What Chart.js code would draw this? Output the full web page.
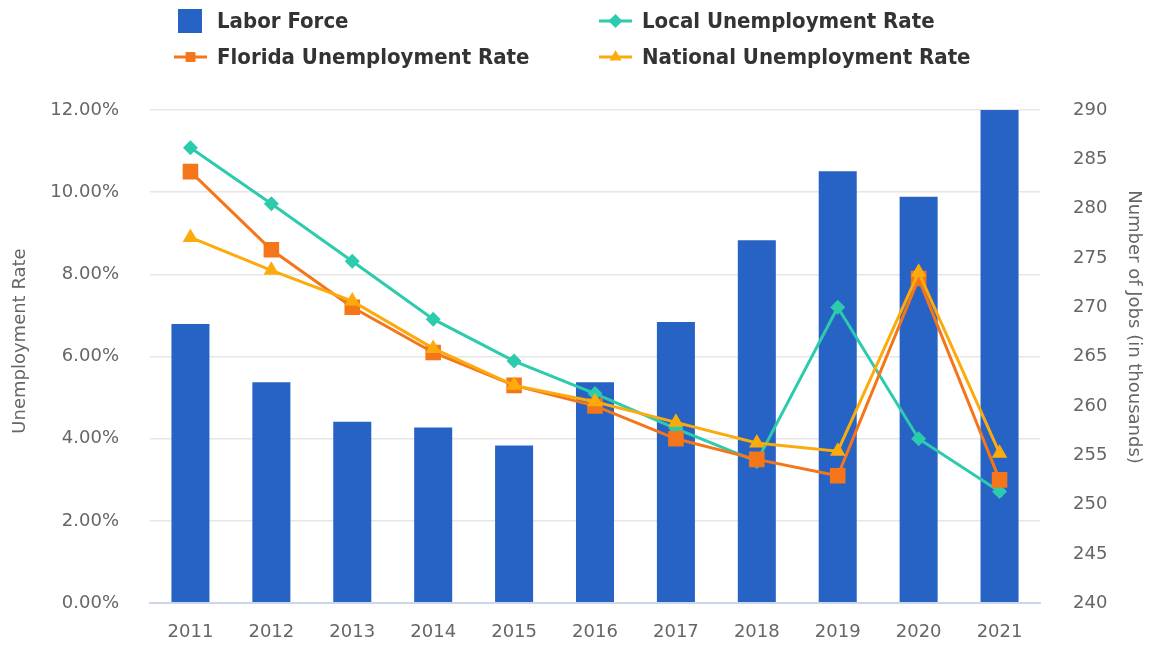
<!DOCTYPE html>
<html>
<head>
<meta charset="utf-8">
<title>Labor Force and Unemployment Rate</title>
<script src="https://cdn.jsdelivr.net/npm/chart.js@4.4.1/dist/chart.umd.min.js"></script>
<style>
  html, body { margin: 0; padding: 0; background: #fff; }
  #wrap { position: relative; width: 1151px; height: 647px; }
</style>
</head>
<body>
<div id="wrap"><canvas id="laborChart"></canvas></div>
<script>
// Chart data
const years = ['2011', '2012', '2013', '2014', '2015', '2016', '2017', '2018', '2019', '2020', '2021'];
const laborForce = [268.3, 262.4, 258.4, 257.8, 256.0, 262.4, 268.5, 276.8, 283.8, 281.2, 290.0];
const localRate = [11.08, 9.72, 8.32, 6.91, 5.89, 5.1, 4.25, 3.45, 7.2, 4.0, 2.72];
const floridaRate = [10.5, 8.6, 7.2, 6.1, 5.3, 4.8, 4.0, 3.5, 3.1, 7.9, 3.0];
const nationalRate = [8.9, 8.1, 7.35, 6.2, 5.3, 4.9, 4.4, 3.9, 3.7, 8.05, 3.65];

const rateAxis = { min: 0, max: 12, step: 2, title: 'Unemployment Rate' };
const jobsAxis = { min: 240, max: 290, step: 5, title: 'Number of Jobs (in thousands)' };

const COLORS = {
  bar: '#2763c4',
  local: '#2ccbad',
  florida: '#f5761a',
  national: '#fbab0c',
  tick: '#666666',
  grid: '#e6e6e6',
  axisLine: '#ccd6eb',
  legendText: '#333333'
};

const TICK_FONT = { family: '"DejaVu Sans", sans-serif', size: 18 };

// Two-column legend drawn at the top, like the original
const legendSlots = [
  { x: 174, y: 21 },
  { x: 599, y: 21 },
  { x: 174, y: 57 },
  { x: 599, y: 57 }
];

const topLegend = {
  id: 'topLegend',
  afterDraw(chart) {
    const ctx = chart.ctx;
    ctx.save();
    chart.data.datasets.forEach((ds, i) => {
      const slot = legendSlots[i];
      if (!slot) return;
      if (ds.type === 'bar') {
        ctx.fillStyle = ds.backgroundColor;
        ctx.fillRect(slot.x + 4, slot.y - 12, 24, 24);
      } else {
        ctx.strokeStyle = ds.borderColor;
        ctx.lineWidth = 3;
        ctx.beginPath();
        ctx.moveTo(slot.x, slot.y);
        ctx.lineTo(slot.x + 33, slot.y);
        ctx.stroke();
        ctx.fillStyle = ds.borderColor;
        Chart.helpers.drawPoint(ctx, {
          pointStyle: ds.pointStyle,
          radius: ds.legendRadius,
          rotation: 0,
          borderWidth: 0
        }, slot.x + 16.5, slot.y);
      }
      ctx.fillStyle = COLORS.legendText;
      ctx.font = 'bold 22px "DejaVu Sans Condensed", "DejaVu Sans", sans-serif';
      ctx.textAlign = 'left';
      ctx.textBaseline = 'middle';
      ctx.fillText(ds.label, slot.x + 43, slot.y + 1);
    });
    ctx.restore();
  }
};

// Axis titles, placed by hand so they sit where the original has them
const axisTitles = {
  id: 'axisTitles',
  afterDraw(chart) {
    const ctx = chart.ctx;
    ctx.save();
    ctx.fillStyle = COLORS.tick;
    ctx.font = '18px "DejaVu Sans", sans-serif';
    ctx.textAlign = 'center';
    ctx.textBaseline = 'middle';

    ctx.translate(20, 341);
    ctx.rotate(-Math.PI / 2);
    ctx.fillText(rateAxis.title, 0, 0);
    ctx.restore();

    ctx.save();
    ctx.fillStyle = COLORS.tick;
    ctx.font = '18px "DejaVu Sans", sans-serif';
    ctx.textAlign = 'center';
    ctx.textBaseline = 'middle';
    ctx.translate(1134, 327);
    ctx.rotate(Math.PI / 2);
    ctx.fillText(jobsAxis.title, 0, 0);
    ctx.restore();
  }
};

const ctx = document.getElementById('laborChart');

new Chart(ctx, {
  data: {
    labels: years,
    datasets: [
      {
        type: 'bar',
        label: 'Labor Force',
        data: laborForce,
        yAxisID: 'yJobs',
        backgroundColor: COLORS.bar,
        borderWidth: 0,
        barPercentage: 0.47,
        categoryPercentage: 1,
        order: 4
      },
      {
        type: 'line',
        label: 'Local Unemployment Rate',
        data: localRate,
        yAxisID: 'yRate',
        borderColor: COLORS.local,
        backgroundColor: COLORS.local,
        borderWidth: 3,
        pointStyle: 'rectRot',
        pointRadius: 7.5,
        pointBorderWidth: 0,
        legendRadius: 7,
        tension: 0,
        order: 3
      },
      {
        type: 'line',
        label: 'Florida Unemployment Rate',
        data: floridaRate,
        yAxisID: 'yRate',
        borderColor: COLORS.florida,
        backgroundColor: COLORS.florida,
        borderWidth: 3,
        pointStyle: 'rect',
        pointRadius: 11,
        pointBorderWidth: 0,
        legendRadius: 7,
        tension: 0,
        order: 2
      },
      {
        type: 'line',
        label: 'National Unemployment Rate',
        data: nationalRate,
        yAxisID: 'yRate',
        borderColor: COLORS.national,
        backgroundColor: COLORS.national,
        borderWidth: 3,
        pointStyle: 'triangle',
        pointRadius: 9,
        pointBorderWidth: 0,
        legendRadius: 7,
        tension: 0,
        order: 1
      }
    ]
  },
  options: {
    responsive: true,
    maintainAspectRatio: false,
    animation: false,
    layout: {
      padding: { top: 110, right: 0, bottom: 0, left: 0 }
    },
    plugins: {
      legend: { display: false },
      tooltip: { enabled: false },
      title: { display: false }
    },
    scales: {
      x: {
        offset: true,
        grid: { display: false, drawTicks: false },
        border: { display: true, color: COLORS.axisLine, width: 2, z: 1 },
        ticks: {
          color: COLORS.tick,
          font: TICK_FONT,
          padding: 18,
          maxRotation: 0
        },
        afterFit(scale) { scale.height = 42; }
      },
      yRate: {
        type: 'linear',
        position: 'left',
        min: rateAxis.min,
        max: rateAxis.max,
        grid: { color: COLORS.grid, lineWidth: 1.5, drawTicks: false },
        border: { display: false },
        ticks: {
          stepSize: rateAxis.step,
          color: COLORS.tick,
          font: TICK_FONT,
          padding: 31,
          callback: value => value.toFixed(2) + '%'
        },
        afterFit(scale) { scale.width = 150; }
      },
      yJobs: {
        type: 'linear',
        position: 'right',
        min: jobsAxis.min,
        max: jobsAxis.max,
        grid: { drawOnChartArea: false, drawTicks: false },
        border: { display: false },
        ticks: {
          stepSize: jobsAxis.step,
          color: COLORS.tick,
          font: TICK_FONT,
          padding: 33
        },
        afterFit(scale) { scale.width = 111; }
      }
    }
  },
  plugins: [topLegend, axisTitles]
});
</script>
</body>
</html>
